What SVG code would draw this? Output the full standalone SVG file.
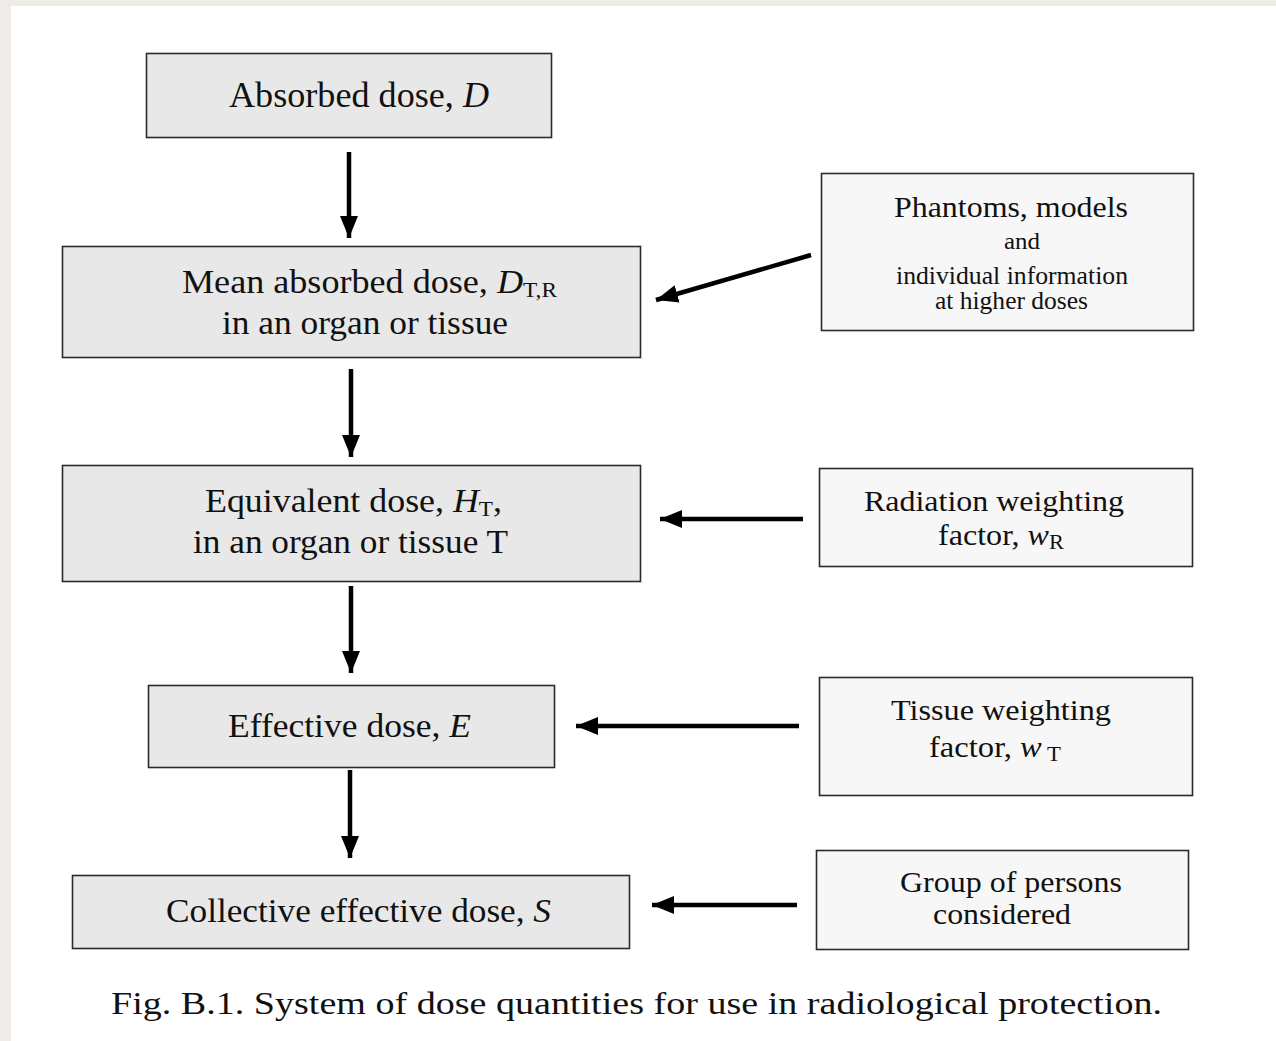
<svg xmlns="http://www.w3.org/2000/svg" width="1276" height="1041" viewBox="0 0 1276 1041">
<defs>
<style>
.main{fill:#e8e8e8;stroke:#2b2b2b;stroke-width:1.6}
.side{fill:#f7f7f7;stroke:#2b2b2b;stroke-width:1.6}
.lbl{fill:#111}
.it{font-style:italic}
.conn{stroke:#000;stroke-width:4.5;fill:none;marker-end:url(#ah)}
</style>
<marker id="ah" markerUnits="userSpaceOnUse" markerWidth="24" markerHeight="20" viewBox="0 0 24 20" refX="22" refY="10" orient="auto">
<path d="M0,1 L22,10 L0,19 Z" fill="#000"/>
</marker>
</defs>
<rect x="0" y="0" width="1276" height="1041" fill="#efece7"/>
<rect x="11" y="6" width="1265" height="1035" fill="#ffffff"/>

<g font-family="Liberation Serif, Times New Roman, serif" class="lbl">
<g id="n-absorbed">
<rect class="main" x="146.5" y="53.5" width="405" height="84"/>
<text font-size="35" x="229" y="107" textLength="260" lengthAdjust="spacingAndGlyphs">Absorbed dose,  <tspan class="it">D</tspan></text>
</g>
<g id="n-mean">
<rect class="main" x="62.5" y="246.5" width="578" height="111"/>
<text font-size="34" x="182" y="293" textLength="375" lengthAdjust="spacingAndGlyphs">Mean absorbed dose,  <tspan class="it">D</tspan><tspan font-size="22" dy="4">T,R</tspan></text>
<text font-size="34" x="222" y="334" textLength="286" lengthAdjust="spacingAndGlyphs">in an organ or tissue</text>
</g>
<g id="n-equivalent">
<rect class="main" x="62.5" y="465.5" width="578" height="116"/>
<text font-size="34" x="205" y="512" textLength="297" lengthAdjust="spacingAndGlyphs">Equivalent dose,  <tspan class="it">H</tspan><tspan font-size="22" dy="4">T</tspan><tspan dy="-4">,</tspan></text>
<text font-size="34" x="193" y="553" textLength="315" lengthAdjust="spacingAndGlyphs">in an organ or tissue T</text>
</g>
<g id="n-effective">
<rect class="main" x="148.5" y="685.5" width="406" height="82"/>
<text font-size="34" x="228" y="737" textLength="243" lengthAdjust="spacingAndGlyphs">Effective dose, <tspan class="it">E</tspan></text>
</g>
<g id="n-collective">
<rect class="main" x="72.5" y="875.5" width="557" height="73"/>
<text font-size="34" x="166" y="922" textLength="385" lengthAdjust="spacingAndGlyphs">Collective effective dose, <tspan class="it">S</tspan></text>
</g>

<g id="n-phantoms">
<rect class="side" x="821.5" y="173.5" width="372" height="157"/>
<text font-size="29" x="894" y="217" textLength="234" lengthAdjust="spacingAndGlyphs">Phantoms, models</text>
<text font-size="23" x="1004" y="249" textLength="36" lengthAdjust="spacingAndGlyphs">and</text>
<text font-size="25" x="896" y="284" textLength="232" lengthAdjust="spacingAndGlyphs">individual information</text>
<text font-size="25" x="935" y="309" textLength="153" lengthAdjust="spacingAndGlyphs">at higher doses</text>
</g>
<g id="n-radiation">
<rect class="side" x="819.5" y="468.5" width="373" height="98"/>
<text font-size="30" x="864" y="511" textLength="260" lengthAdjust="spacingAndGlyphs">Radiation weighting</text>
<text font-size="30" x="938" y="545" textLength="126" lengthAdjust="spacingAndGlyphs">factor, <tspan class="it">w</tspan><tspan font-size="21" dy="4">R</tspan></text>
</g>
<g id="n-tissue">
<rect class="side" x="819.5" y="677.5" width="373" height="118"/>
<text font-size="30" x="891" y="720" textLength="220" lengthAdjust="spacingAndGlyphs">Tissue weighting</text>
<text font-size="30" x="929" y="757" textLength="132" lengthAdjust="spacingAndGlyphs">factor,  <tspan class="it">w</tspan><tspan font-size="21" dy="4"> T</tspan></text>
</g>
<g id="n-group">
<rect class="side" x="816.5" y="850.5" width="372" height="99"/>
<text font-size="30" x="900" y="892" textLength="222" lengthAdjust="spacingAndGlyphs">Group of persons</text>
<text font-size="30" x="933" y="924" textLength="138" lengthAdjust="spacingAndGlyphs">considered</text>
</g>

<text id="caption" font-size="32" x="111" y="1014" textLength="1051" lengthAdjust="spacingAndGlyphs">Fig. B.1. System of dose quantities for use in radiological protection.</text>
</g>

<g id="connectors">
<line class="conn" x1="349" y1="152" x2="349" y2="238"/>
<line class="conn" x1="351" y1="369" x2="351" y2="457"/>
<line class="conn" x1="351" y1="586" x2="351" y2="673"/>
<line class="conn" x1="350" y1="770" x2="350" y2="858"/>
<line class="conn" x1="811" y1="255" x2="656" y2="300"/>
<line class="conn" x1="803" y1="519" x2="660" y2="519"/>
<line class="conn" x1="799" y1="726" x2="576" y2="726"/>
<line class="conn" x1="797" y1="905" x2="652" y2="905"/>
</g>
</svg>
